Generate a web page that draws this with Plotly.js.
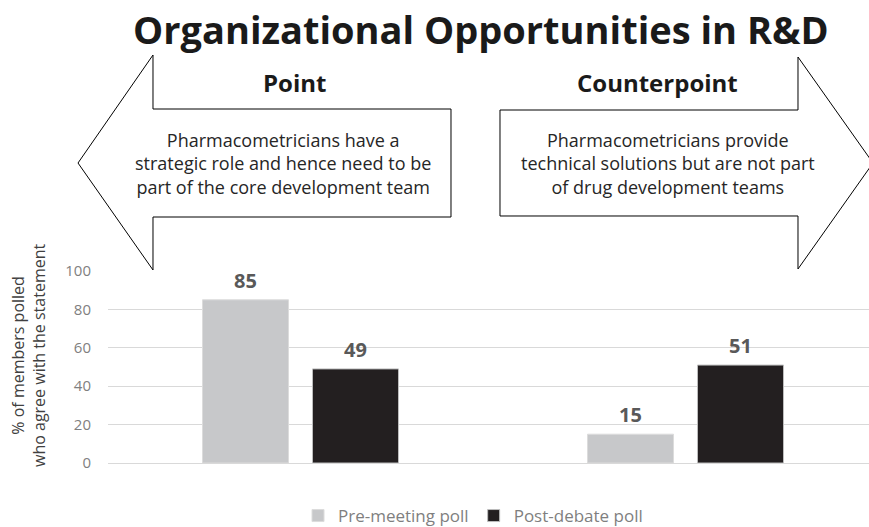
<!DOCTYPE html>
<html>
<head>
<meta charset="utf-8">
<script src="https://cdn.plot.ly/plotly-3.0.1.min.js"></script>
<style>html,body{margin:0;padding:0;background:#fff;}#chart{width:869px;height:527px;}</style>
</head>
<body>
<div id="chart"></div>
<script>
var categories = ['Point', 'Counterpoint'];
var seriesNames = ['Pre-meeting poll', 'Post-debate poll'];
var preMeeting = [85, 15];
var postDebate = [49, 51];
var yTicks = [0, 20, 40, 60, 80, 100];
var chartTitle = 'Organizational Opportunities in R&D';
var yTitleLines = ['% of members polled', 'who agree with the statement'];
var pointText = ['Pharmacometricians have a', 'strategic role and hence need to be', 'part of the core development team'];
var counterText = ['Pharmacometricians provide', 'technical solutions but are not part', 'of drug development teams'];

var W = 869, H = 527, ML = 108, MR = 0, MT = 271, MB = 64;
var PW = W - ML - MR, PH = H - MT - MB;
function px(x) { return (x - ML) / PW; }
function py(y) { return (H - MB - y) / PH; }
function path(pts) {
  return 'M ' + pts.map(function (p) { return px(p[0]).toFixed(5) + ' ' + py(p[1]).toFixed(5); }).join(' L ') + ' Z';
}
var FONT = '"Open Sans", Lato, sans-serif';

var traces = [
  { type: 'bar', name: seriesNames[0], x: categories, y: preMeeting,
    marker: { color: '#c7c8ca', line: { color: '#dcdcdc', width: 1 } }, hoverinfo: 'none' },
  { type: 'bar', name: seriesNames[1], x: categories, y: postDebate,
    marker: { color: '#231f20', line: { color: '#bdbdbd', width: 1 } }, hoverinfo: 'none' }
];

function txt(x, y, text, size, color, extra) {
  var a = { xref: 'paper', yref: 'paper', x: px(x), y: py(y), text: text, showarrow: false,
    xanchor: 'center', yanchor: 'middle', align: 'center', font: { family: FONT, size: size, color: color } };
  if (extra) for (var k in extra) a[k] = extra[k];
  return a;
}

var annotations = [];
var series = [preMeeting, postDebate];
series.forEach(function (vals, si) {
  vals.forEach(function (v, ci) {
    annotations.push({ x: categories[ci], y: v, xref: 'x', yref: 'y', text: '<b>' + v + '</b>', showarrow: false,
      xanchor: 'center', yanchor: 'bottom', yshift: 4, xshift: si === 0 ? -55 : 55,
      font: { family: FONT, size: 20, color: '#595959' } });
  });
});
annotations.push(txt(481, 29, '<b>' + chartTitle.replace('&', '&amp;') + '</b>', 38, '#1a1a1a'));
annotations.push(txt(294, 82, '<b>Point</b>', 24, '#1a1a1a'));
annotations.push(txt(657, 82, '<b>Counterpoint</b>', 24, '#1a1a1a'));
annotations.push(txt(283, 163, pointText.join('<br>'), 18, '#262626'));
annotations.push(txt(668, 163, counterText.join('<br>'), 18, '#262626'));
annotations.push(txt(28, 355, yTitleLines.join('<br>'), 16, '#404040', { textangle: -90 }));

var shapes = [
  { type: 'path', xref: 'paper', yref: 'paper', layer: 'above',
    path: path([[78, 163], [153, 55], [153, 109], [451, 109], [451, 217], [153, 217], [153, 270]]),
    fillcolor: '#ffffff', line: { color: '#000000', width: 1 } },
  { type: 'path', xref: 'paper', yref: 'paper', layer: 'above',
    path: path([[500, 110], [798, 110], [798, 57], [873, 163], [798, 269], [798, 216], [500, 216]]),
    fillcolor: '#ffffff', line: { color: '#000000', width: 1 } }
];

var layout = {
  width: W, height: H,
  margin: { l: ML, r: MR, t: MT, b: MB, pad: 0, autoexpand: false },
  paper_bgcolor: '#ffffff', plot_bgcolor: '#ffffff',
  barmode: 'group', bargap: 0.4286, bargroupgap: 0.218,
  showlegend: true,
  legend: { orientation: 'h', x: px(473), xanchor: 'center', y: py(516), yanchor: 'middle',
    font: { family: FONT, size: 17, color: '#7f7f7f' }, itemwidth: 30, traceorder: 'normal' },
  xaxis: { type: 'category', range: [-0.5, -0.5 + PW / 385], showticklabels: false, showgrid: false,
    zeroline: false, showline: false, ticks: '', fixedrange: true, automargin: false },
  yaxis: { range: [0, 100], tickvals: yTicks, showgrid: true, gridcolor: '#d9d9d9', gridwidth: 1,
    zeroline: true, zerolinecolor: '#d9d9d9', zerolinewidth: 1, showline: false, ticks: '',
    ticklabelstandoff: 16, tickfont: { family: FONT, size: 15, color: '#7f7f7f' }, fixedrange: true, automargin: false },
  annotations: annotations,
  shapes: shapes
};

Plotly.newPlot('chart', traces, layout, { displayModeBar: false, staticPlot: true });
</script>
</body>
</html>
